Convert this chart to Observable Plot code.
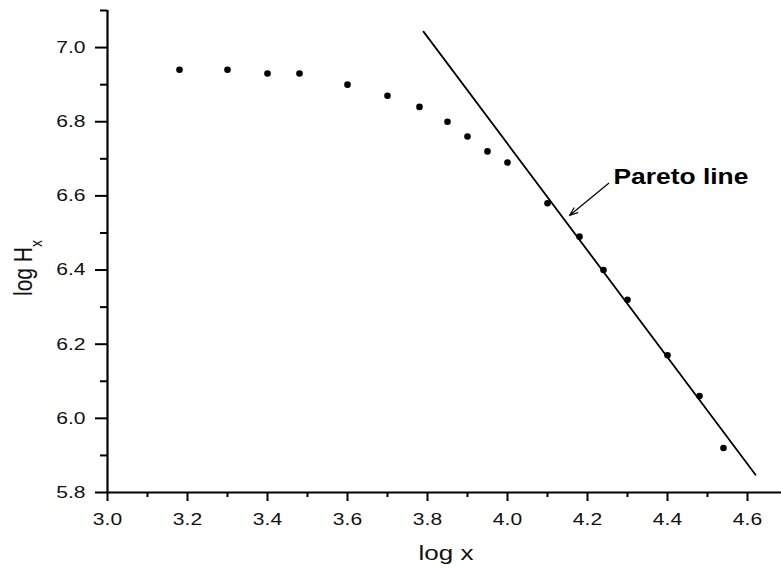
<!DOCTYPE html>
<html><head><meta charset="utf-8">
<script src="https://cdn.jsdelivr.net/npm/d3@7"></script>
<script src="https://cdn.jsdelivr.net/npm/@observablehq/plot@0.6"></script>
<style>
body{margin:0;background:#fff}
svg{font-family:"Liberation Sans",Arial,sans-serif}
</style>
</head><body><div id="chart"></div>
<script>
// measured points
const logX = [3.18, 3.30, 3.40, 3.48, 3.60, 3.70, 3.78, 3.85, 3.90, 3.95, 4.00, 4.10, 4.18, 4.24, 4.30, 4.40, 4.48, 4.54];
const logH = [6.94, 6.94, 6.93, 6.93, 6.90, 6.87, 6.84, 6.80, 6.76, 6.72, 6.69, 6.58, 6.49, 6.40, 6.32, 6.17, 6.06, 5.92];
// Pareto line end points
const lineX = [3.79, 4.62];
const lineY = [7.043, 5.848];
// annotation
const arrowFrom = [4.253, 6.634];
const arrowTo = [4.155, 6.547];
const labelPos = [4.265, 6.651];
const labelText = "Pareto line";
// ticks
const xMajor = [3.0, 3.2, 3.4, 3.6, 3.8, 4.0, 4.2, 4.4, 4.6];
const xMinor = [3.1, 3.3, 3.5, 3.7, 3.9, 4.1, 4.3, 4.5];
const yMajor = [5.8, 6.0, 6.2, 6.4, 6.6, 6.8, 7.0];
const yMinor = [5.9, 6.1, 6.3, 6.5, 6.7, 6.9, 7.1];
const xTitle = "log x";
const yTitleMain = "log H";
const yTitleSub = "x";

const pts = logX.map((x, i) => ({x, y: logH[i]}));
const fit = lineX.map((x, i) => ({x, y: lineY[i]}));
const fmt = d3.format(".1f");

const plot = Plot.plot({
  width: 781, height: 568,
  marginLeft: 107, marginRight: 0, marginTop: 10, marginBottom: 76,
  style: {fontFamily: "Liberation Sans, Arial, sans-serif", fontSize: "17px", color: "#000", background: "#fff"},
  x: {domain: [3.0, 4.685]},
  y: {domain: [5.8, 7.1]},
  marks: [
    Plot.axisX({ticks: xMajor, tickSize: 9, tickPadding: 11, tickFormat: fmt, label: null, stroke: "#000", strokeWidth: 2, fill: "#111"}),
    Plot.axisX({ticks: xMinor, tickSize: 5, tickFormat: () => "", label: null, stroke: "#000", strokeWidth: 2}),
    Plot.axisY({ticks: yMajor, tickSize: 12, tickPadding: 10, tickFormat: fmt, label: null, stroke: "#000", strokeWidth: 2, fill: "#111"}),
    Plot.axisY({ticks: yMinor, tickSize: 7, tickFormat: () => "", label: null, stroke: "#000", strokeWidth: 2}),
    Plot.ruleX([3.0], {stroke: "#000", strokeWidth: 2.2}),
    Plot.ruleY([5.8], {stroke: "#000", strokeWidth: 2.2}),
    Plot.line(fit, {x: "x", y: "y", stroke: "#000", strokeWidth: 1.8}),
    Plot.dot(pts, {x: "x", y: "y", r: 3.3, fill: "#000", stroke: null}),
    Plot.arrow([{x1: arrowFrom[0], y1: arrowFrom[1], x2: arrowTo[0], y2: arrowTo[1]}],
      {x1: "x1", y1: "y1", x2: "x2", y2: "y2", stroke: "#000", strokeWidth: 1.2, headLength: 11, headAngle: 40}),
    Plot.text([{x: labelPos[0], y: labelPos[1], t: labelText}],
      {x: "x", y: "y", text: "t", textAnchor: "start", fontSize: 22, fontWeight: "bold", fill: "#000"})
  ]
});
document.getElementById("chart").appendChild(plot);

function stretch(t, sx) {
  const tr = t.getAttribute("transform") || "";
  const x = parseFloat(t.getAttribute("x")) || 0;
  t.setAttribute("transform", `${tr} translate(${x},0) scale(${sx},1) translate(${-x},0)`);
}
const svg = d3.select(plot);
svg.selectAll('g[aria-label$="tick label"] text').each(function() { stretch(this, 1.24); });
svg.selectAll('g[aria-label="text"] text').each(function() { stretch(this, 1.2); });

// axis titles
svg.append("text")
  .attr("transform", "translate(446,560) scale(1.24,1)")
  .attr("text-anchor", "middle")
  .attr("font-size", 21)
  .attr("fill", "#111")
  .text(xTitle);

const yt = svg.append("text")
  .attr("transform", "translate(32,268) rotate(-90) scale(1,1.24)")
  .attr("text-anchor", "middle")
  .attr("font-size", 21)
  .attr("fill", "#111");
yt.append("tspan").text(yTitleMain);
yt.append("tspan").attr("font-size", 14).attr("dy", 8).text(yTitleSub);
</script>
</body></html>
